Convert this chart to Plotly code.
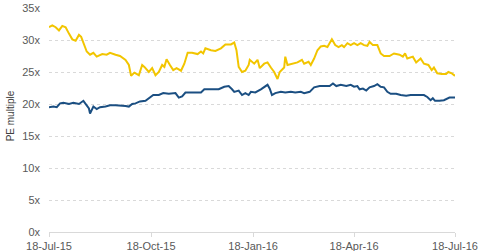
import plotly.graph_objects as go

yellow_dates = ["2015-07-18","2015-07-21","2015-07-24","2015-07-27","2015-07-30","2015-08-02","2015-08-05","2015-08-08",
"2015-08-11","2015-08-14","2015-08-16","2015-08-18","2015-08-21","2015-08-24","2015-08-27","2015-08-30","2015-09-04",
"2015-09-08","2015-09-11","2015-09-16","2015-09-20","2015-09-25","2015-09-28","2015-09-30","2015-10-03","2015-10-07",
"2015-10-10","2015-10-12","2015-10-16","2015-10-19","2015-10-22","2015-10-25","2015-10-28","2015-10-30","2015-11-01",
"2015-11-04","2015-11-07","2015-11-10","2015-11-14","2015-11-17","2015-11-20","2015-11-24","2015-11-29","2015-12-02",
"2015-12-04","2015-12-06","2015-12-11","2015-12-15","2015-12-20","2015-12-24","2015-12-29","2016-01-01","2016-01-03",
"2016-01-05","2016-01-08","2016-01-11","2016-01-14","2016-01-15","2016-01-19","2016-01-22","2016-01-24","2016-01-28",
"2016-01-31","2016-02-03","2016-02-06","2016-02-09","2016-02-11","2016-02-15","2016-02-16","2016-02-18","2016-02-22",
"2016-02-27","2016-03-02","2016-03-04","2016-03-08","2016-03-10","2016-03-13","2016-03-16","2016-03-19","2016-03-22",
"2016-03-25","2016-03-29","2016-04-01","2016-04-04","2016-04-07","2016-04-09","2016-04-12","2016-04-15","2016-04-18",
"2016-04-21","2016-04-24","2016-04-27","2016-04-30","2016-05-02","2016-05-05","2016-05-09","2016-05-12","2016-05-15",
"2016-05-20","2016-05-24","2016-05-29","2016-06-01","2016-06-03","2016-06-05","2016-06-10","2016-06-13","2016-06-17",
"2016-06-20","2016-06-24","2016-06-27","2016-06-29","2016-07-02","2016-07-06","2016-07-10","2016-07-12","2016-07-15",
"2016-07-18"]
yellow_values = [32.0,32.3,32.0,31.5,32.2,32.0,31.0,30.1,
29.9,30.8,30.5,29.5,28.2,27.7,28.0,27.4,27.8,
27.7,28.0,27.7,27.5,26.9,26.1,24.4,24.9,24.5,
26.1,25.8,25.0,25.6,24.5,25.0,26.1,25.8,27.0,
26.1,25.3,25.6,25.2,26.3,28.0,28.0,27.8,28.2,
27.9,28.7,28.4,28.3,28.7,29.3,29.3,29.6,28.4,
25.8,25.0,25.2,26.1,26.9,26.3,26.9,25.6,26.3,
26.5,25.7,25.0,23.9,25.0,25.7,27.4,26.1,26.3,
26.5,26.9,26.3,26.6,26.1,27.1,28.4,29.0,29.1,
28.9,30.1,29.2,28.9,29.2,28.9,29.5,29.2,29.5,
29.2,29.5,29.2,29.1,29.7,29.2,29.2,27.9,27.5,
27.5,27.9,27.7,27.4,27.9,27.1,27.4,26.5,27.1,
26.3,26.1,25.3,25.7,24.8,24.7,24.7,25.0,24.8,
24.4]

blue_dates = ["2015-07-18","2015-07-22","2015-07-25","2015-07-28","2015-07-31","2015-08-05","2015-08-09","2015-08-14",
"2015-08-18","2015-08-21","2015-08-23","2015-08-24","2015-08-27","2015-08-30","2015-09-02","2015-09-07","2015-09-11",
"2015-09-16","2015-09-20","2015-09-25","2015-09-28","2015-10-01","2015-10-04","2015-10-08","2015-10-13","2015-10-16",
"2015-10-20","2015-10-25","2015-10-29","2015-11-03","2015-11-09","2015-11-12","2015-11-15","2015-11-18","2015-11-23",
"2015-11-27","2015-12-02","2015-12-05","2015-12-09","2015-12-14","2015-12-18","2015-12-23","2015-12-27","2015-12-30",
"2016-01-01","2016-01-05","2016-01-08","2016-01-11","2016-01-14","2016-01-16","2016-01-20","2016-01-25","2016-01-28",
"2016-01-31","2016-02-02","2016-02-04","2016-02-07","2016-02-12","2016-02-16","2016-02-21","2016-02-25","2016-03-01",
"2016-03-04","2016-03-09","2016-03-13","2016-03-18","2016-03-22","2016-03-27","2016-03-30","2016-04-02","2016-04-06",
"2016-04-11","2016-04-15","2016-04-18","2016-04-21","2016-04-23","2016-04-26","2016-04-29","2016-05-02","2016-05-06",
"2016-05-09","2016-05-12","2016-05-15","2016-05-18","2016-05-21","2016-05-26","2016-05-30","2016-06-04","2016-06-08",
"2016-06-13","2016-06-17","2016-06-20","2016-06-23","2016-06-26","2016-06-28","2016-06-30","2016-07-04","2016-07-08",
"2016-07-13","2016-07-16","2016-07-18"]
blue_values = [19.5,19.6,19.5,20.1,20.2,20.0,20.2,20.0,
20.5,19.8,19.3,18.5,19.6,19.2,19.5,19.6,19.8,
19.8,19.8,19.7,19.6,20.0,20.1,20.4,20.5,20.9,
21.4,21.4,21.7,21.6,21.7,21.0,21.2,21.8,21.8,
21.9,21.8,22.3,22.3,22.4,22.3,22.7,22.8,22.3,
21.9,22.1,21.4,21.7,21.4,21.9,21.8,22.3,22.7,
23.0,22.4,21.4,21.7,21.9,21.8,21.9,21.8,21.9,
21.7,21.9,22.6,22.8,22.8,22.8,23.2,22.8,23.0,
22.8,23.0,22.7,22.8,22.3,22.4,22.1,22.6,22.8,
23.1,22.7,22.6,21.9,21.6,21.6,21.4,21.3,21.4,
21.4,21.4,21.4,21.1,20.6,20.9,20.5,20.5,20.6,
21.0,21.0,21.0]

tick_dates = ["2015-07-18", "2015-10-18", "2016-01-18", "2016-04-18", "2016-07-18"]
tick_labels = ["18-Jul-15", "18-Oct-15", "18-Jan-16", "18-Apr-16", "18-Jul-16"]
y_ticks = [0, 5, 10, 15, 20, 25, 30, 35]
y_tick_labels = ["0x", "5x", "10x", "15x", "20x", "25x", "30x", "35x"]

YELLOW = "#F2C500"
BLUE = "#1B4F82"

fig = go.Figure()
fig.add_trace(go.Scatter(x=yellow_dates, y=yellow_values, mode="lines",
                         line=dict(color=YELLOW, width=2), showlegend=False))
fig.add_trace(go.Scatter(x=blue_dates, y=blue_values, mode="lines",
                         line=dict(color=BLUE, width=2), showlegend=False))

fig.update_layout(
    width=480, height=251,
    margin=dict(l=49, r=25, t=8, b=19),
    paper_bgcolor="white", plot_bgcolor="white",
    font=dict(family="Liberation Sans, Arial, sans-serif", size=11, color="#595959"),
    xaxis=dict(
        type="date", automargin=False,
        range=["2015-07-18", "2016-07-18"],
        tickvals=tick_dates, ticktext=tick_labels,
        showgrid=False, showline=True, linecolor="#D9D9D9", linewidth=1,
        ticks="outside", ticklen=4, tickcolor="#D9D9D9",
        tickfont=dict(size=11, color="#595959"),
        zeroline=False,
    ),
    yaxis=dict(
        automargin=False,
        range=[0, 35], tickvals=y_ticks, ticktext=y_tick_labels,
        showgrid=True, gridcolor="#D9D9D9", griddash="dot", gridwidth=1,
        zeroline=False, showline=False,
        tickfont=dict(size=11, color="#595959"),
        ticklabelstandoff=8,
    ),
    annotations=[dict(
        text="PE multiple", textangle=-90, xref="paper", yref="paper",
        x=-0.094, y=0.52, xanchor="center", yanchor="middle", showarrow=False,
        font=dict(size=10, color="#404040"),
    )],
)

fig.write_html("out.html")
